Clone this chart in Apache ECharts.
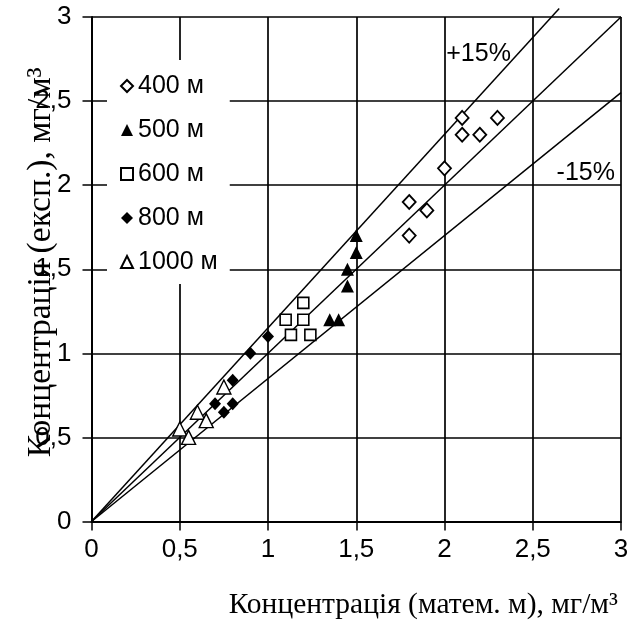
<!DOCTYPE html>
<html>
<head>
<meta charset="utf-8">
<script src="https://cdn.jsdelivr.net/npm/echarts@6/dist/echarts.min.js"></script>
<style>
  html, body { margin: 0; padding: 0; background: #fff; }
  #chart { width: 630px; height: 628px; }
</style>
</head>
<body>
<div id="chart"></div>
<script>
// Measured vs. modelled concentration, grouped by distance from the source
const seriesNames = ['400 м', '500 м', '600 м', '800 м', '1000 м'];

const d400  = [[1.8, 1.7], [1.8, 1.9], [1.9, 1.85], [2.0, 2.1], [2.1, 2.3], [2.1, 2.4], [2.2, 2.3], [2.3, 2.4]];
const d500  = [[1.35, 1.2], [1.4, 1.2], [1.45, 1.4], [1.45, 1.5], [1.5, 1.6], [1.5, 1.7]];
const d600  = [[1.1, 1.2], [1.2, 1.2], [1.2, 1.3], [1.13, 1.11], [1.24, 1.11]];
const d800  = [[0.7, 0.7], [0.75, 0.65], [0.8, 0.7], [0.8, 0.84], [0.9, 1.0], [1.0, 1.1]];
const d1000 = [[0.5, 0.55], [0.55, 0.5], [0.6, 0.65], [0.65, 0.6], [0.75, 0.8]];

// Reference lines: perfect agreement and the ±15 % band
const lineEqual = [[0, 0], [3, 3]];
const linePlus  = [[0, 0], [2.65, 3.05]];
const lineMinus = [[0, 0], [3, 2.55]];
const bandLabels = [
  { name: '+15%', value: [2.01, 2.78] },
  { name: '-15%', value: [2.635, 2.07] }
];

const axisTicks = [0, 0.5, 1, 1.5, 2, 2.5, 3];

const sans = 'Arial, "Liberation Sans", sans-serif';
const serif = '"Times New Roman", "Liberation Serif", serif';
const fmt = v => String(v).replace('.', ',');

const chart = echarts.init(document.getElementById('chart'), null, { renderer: 'canvas' });

const axisCommon = {
  type: 'value',
  min: axisTicks[0],
  max: axisTicks[axisTicks.length - 1],
  interval: axisTicks[1] - axisTicks[0],
  nameLocation: 'middle',
  nameMoveOverlap: false,
  axisLine: { show: true, onZero: false, lineStyle: { color: '#000', width: 2 } },
  axisTick: { show: true, inside: false, length: 9, lineStyle: { color: '#000', width: 1.5 } },
  splitLine: { show: true, lineStyle: { color: '#000', width: 1.7 } },
  axisLabel: { color: '#000', fontFamily: sans, fontSize: 26, formatter: fmt }
};

const refLine = (data, clip) => ({
  type: 'line',
  data: data,
  symbol: 'none',
  silent: true,
  clip: clip,
  z: 1,
  lineStyle: { color: '#000', width: 1.5, opacity: 1 },
  animation: false
});

const scatter = (name, data, symbol, size, fill, border) => ({
  name: name,
  type: 'scatter',
  data: data,
  symbol: symbol,
  symbolSize: size,
  z: 5,
  itemStyle: { color: fill, borderColor: '#000', borderWidth: border, opacity: 1 },
  animation: false
});

chart.setOption({
  animation: false,
  backgroundColor: '#fff',
  grid: {
    left: 91.5, right: 9, top: 17, bottom: 106.5,
    containLabel: false,
    outerBoundsMode: 'none'
  },
  xAxis: Object.assign({}, axisCommon, {
    name: 'Концентрація (матем. м), мг/м³',
    nameGap: 69,
    nameTextStyle: { color: '#000', fontFamily: serif, fontSize: 29.5, padding: [0, 0, 0, 134] },
    axisLabel: Object.assign({}, axisCommon.axisLabel, { margin: 15 })
  }),
  yAxis: Object.assign({}, axisCommon, {
    name: 'Концентрація (експ.), мг/м³',
    nameGap: 33,
    nameTextStyle: { color: '#000', fontFamily: serif, fontSize: 33.5, padding: [0, 0, 0, 14] },
    axisLabel: Object.assign({}, axisCommon.axisLabel, { margin: 20 })
  }),
  legend: {
    data: seriesNames,
    orient: 'vertical',
    left: 107,
    top: 60,
    backgroundColor: '#fff',
    padding: [11, 12, 7, 13],
    itemWidth: 12,
    itemHeight: 12,
    itemGap: 14,
    textStyle: { color: '#000', fontFamily: sans, fontSize: 25, lineHeight: 30 }
  },
  series: [
    refLine(lineEqual, true),
    refLine(linePlus, false),
    refLine(lineMinus, true),
    {
      type: 'scatter',
      data: bandLabels,
      symbolSize: 0,
      silent: true,
      z: 6,
      itemStyle: { opacity: 1 },
      label: {
        show: true,
        position: 'right',
        distance: 0,
        formatter: '{b}',
        color: '#000',
        opacity: 1,
        fontFamily: sans,
        fontSize: 25
      },
      animation: false
    },
    scatter(seriesNames[0], d400, 'diamond', [13, 14], '#fff', 1.8),
    scatter(seriesNames[1], d500, 'triangle', [13, 13], '#000', 0),
    scatter(seriesNames[2], d600, 'rect', 11, '#fff', 1.6),
    scatter(seriesNames[3], d800, 'diamond', [12, 13], '#000', 0),
    scatter(seriesNames[4], d1000, 'triangle', [14, 14], '#fff', 1.4)
  ]
});
</script>
</body>
</html>
